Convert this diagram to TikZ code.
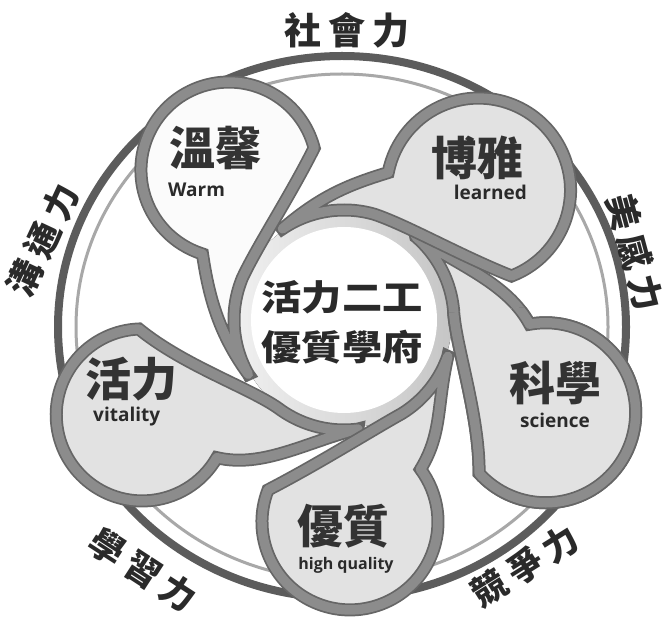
\documentclass[tikz,border=0pt]{standalone}
\usepackage{fontspec}
\setmainfont{Open Sans}
\newfontfamily\cjk{Noto Sans CJK TC}
\usetikzlibrary{calc}
\definecolor{ringdark}{HTML}{5C5C5C}
\definecolor{ringlight}{HTML}{A8A8A8}
\definecolor{bordout}{HTML}{666666}
\definecolor{bordin}{HTML}{8C8C8C}
\definecolor{petalfill}{HTML}{E2E2E2}
\definecolor{warmfill}{HTML}{FBFBFB}
\definecolor{inkc}{HTML}{2A2A2A}
\definecolor{titlec}{HTML}{333333}
% #1 angle, #2 distance, #3 radius, #4 tip angle (relative), #5 fill
\newcommand\petalshape[5]{%
 \pgfmathsetmacro\pbx{#2+#3*cos(-113)}%
 \pgfmathsetmacro\pby{#3*sin(-113)}%
 \pgfmathsetmacro\pba{atan2(\pby,\pbx)}%
 \pgfmathsetmacro\pbr{veclen(\pbx,\pby)}%
 \pgfmathsetmacro\pcx{#2+#3*cos(125)}%
 \pgfmathsetmacro\pcy{#3*sin(125)}%
 \pgfmathsetmacro\pca{atan2(\pcy,\pcx)}%
 \pgfmathsetmacro\pcr{veclen(\pcx,\pcy)}%
 \begin{scope}[shift={(C)}, rotate=#1]
  \path[petalline, preaction={fill=#5}, preaction={draw=bordout, line width=13pt}]
   (#4:110) arc[start angle=#4, end angle=30, radius=110]
   .. controls (12:114) and ({\pba+14}:{\pbr-40}) .. (\pbx,\pby)
   arc[start angle=-113, end angle=125, radius=#3]
   .. controls ({\pca+14}:{\pcr-18}) and ({#4-24}:127) .. cycle;
 \end{scope}}
\tikzset{
  petalline/.style={draw=bordin, line width=9.5pt, line join=round},
  outerlbl/.style={font=\cjk\bfseries\fontsize{35}{40}\selectfont, text=inkc, inner sep=0pt},
  titlelbl/.style={font=\cjk\bfseries\fontsize{46}{50}\selectfont, text=titlec, inner sep=0pt},
  englbl/.style={font=\bfseries\fontsize{19}{22}\selectfont, text=inkc, inner sep=0pt},
  centerlbl/.style={font=\cjk\bfseries\fontsize{35}{50}\selectfont, text=inkc, inner sep=0pt, align=center}
}
\newcommand\lblgap{\hspace{7pt}}
\begin{document}
\begin{tikzpicture}[x=1pt,y=1pt]
\useasboundingbox (0,0) rectangle (669,619);
\fill[white] (0,0) rectangle (669,619);
\coordinate (C) at (344,299);
\coordinate (R) at (342,292);
% outer rings
\draw[ringdark, line width=8pt] (R) ellipse [x radius=284, y radius=271];
\draw[ringlight, line width=3pt] (R) ellipse [x radius=266, y radius=253];
% gradient ring round the centre
\fill[left color=gray!12, right color=gray!45] (C) circle[radius=108];
% petals (drawn in counter-clockwise order)
\petalshape{-24.7}{222}{90}{74}{petalfill}   % science
\petalshape{44}{187}{92}{80}{petalfill}      % learned
\petalshape{127.5}{189}{88}{82}{warmfill}    % warm
\petalshape{205.2}{223}{86}{72}{petalfill}   % vitality
\petalshape{-88.3}{202}{88}{69}{petalfill}   % high quality
% science petal again over the tail that tucks under it
\begin{scope}
  \clip (C) -- ($(C)+(-70:320)$) arc[start angle=-70, end angle=4, radius=320] -- cycle;
  \petalshape{-24.7}{222}{90}{74}{petalfill}
\end{scope}
% center disk
\fill[white] (C) circle[radius=93];
% centre text
\node[centerlbl] (ctr) at (342,297) {\scalebox{1.15}[1]{活力二工}\\\scalebox{1.15}[1]{優質學府}};
% petal titles
\node[titlelbl] (t1) at (215,471) {溫馨};
\node[englbl, anchor=west] (e1) at (168,429) {Warm};
\node[titlelbl] (t2) at (477,461) {博雅};
\node[englbl, anchor=east] (e2) at (527,427) {learned};
\node[titlelbl] (t3) at (555,236) {科學};
\node[englbl] (e3) at (555,199) {science};
\node[titlelbl] (t4) at (343,93) {優質};
\node[englbl, font=\bfseries\fontsize{16}{18}\selectfont] (e4) at (346,54) {high quality};
\node[titlelbl] (t5) at (131,240) {活力};
\node[englbl, anchor=west] (e5) at (93,202) {vitality};
% outer labels
\node[outerlbl, font=\cjk\bfseries\fontsize{37}{40}\selectfont] (o1) at (347,589) {社\lblgap 會\lblgap 力};
\node[outerlbl, rotate=-75] (o2) at (635,367) {美\lblgap 感\lblgap 力};
\node[outerlbl, rotate=65] (o3) at (43,379) {溝\lblgap 通\lblgap 力};
\node[outerlbl, rotate=-33] (o4) at (143,49) {學\lblgap 習\lblgap 力};
\node[outerlbl, rotate=32] (o5) at (525,53) {競\lblgap 爭\lblgap 力};
\end{tikzpicture}
\end{document}
